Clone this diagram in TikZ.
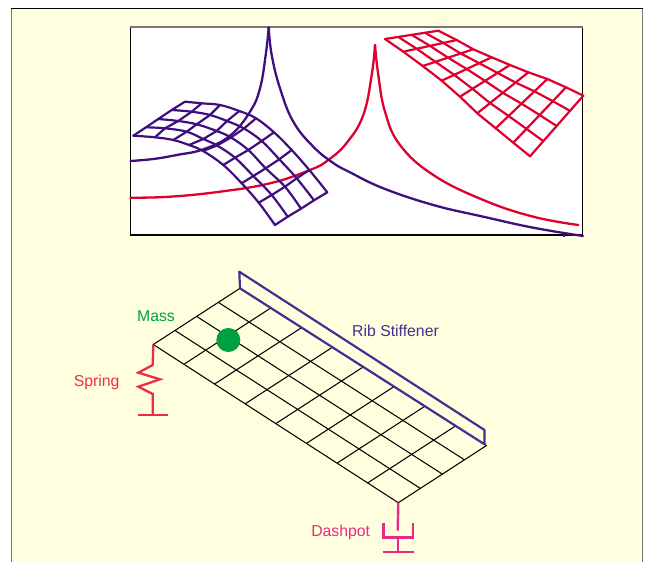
\documentclass[tikz,border=0pt]{standalone}
\usepackage{fontspec}
\setmainfont{Liberation Sans}
\usetikzlibrary{calc}
\definecolor{cream}{HTML}{FFFFE0}
\definecolor{purp}{HTML}{3F0F80}
\definecolor{crim}{HTML}{E0002F}
\definecolor{ribc}{HTML}{453090}
\definecolor{massc}{HTML}{00A040}
\definecolor{sprc}{HTML}{EA3040}
\definecolor{dashc}{HTML}{EA2A88}
\definecolor{edgeg}{HTML}{777770}
\tikzset{
  meshline/.style={line width=2.2pt,line join=round,line cap=round},
  curveline/.style={line width=2.3pt,line join=round,line cap=round},
  platewire/.style={black,line width=1.05pt},
  lbl/.style={font=\fontsize{15.8}{18}\selectfont,inner sep=0pt},
  ribline/.style={ribc,line width=2.2pt,line join=round},
  sprline/.style={sprc,line width=2.3pt,line join=miter},
  dashline/.style={dashc,line width=2.4pt}
}
\newcommand{\meshrow}[6]{%
  \coordinate (#1-0) at (#2);\coordinate (#1-1) at (#3);\coordinate (#1-2) at (#4);%
  \coordinate (#1-3) at (#5);\coordinate (#1-4) at (#6);}
\begin{document}
\begin{tikzpicture}[x=1pt,y=-1pt]
\useasboundingbox (0,0) rectangle (645,562);
\fill[white] (0,0) rectangle (645,562);
\fill[cream] (11.5,8.5) rectangle (642.5,562);
\draw[edgeg,line width=1.8pt] (11.5,562) -- (11.5,8.5);
\draw[edgeg,line width=1.8pt] (642.5,8.5) -- (642.5,562);
\draw[black,line width=1.2pt] (11,8.5) -- (643,8.5);
% plot frame
\fill[white] (130.5,27) rectangle (582.5,235);
\draw[black,line width=1.2pt] (130.5,27) -- (130.5,235) -- (582.5,235) -- (582.5,27);
\draw[edgeg,line width=1.3pt] (130,27) -- (583,27);
% response curves
\draw[crim,curveline] plot[smooth,tension=0.7] coordinates {(130.5,197.7)(170,196.7)(220,191.7)(270,183.3)(310,170)(328.3,160)(347,142.5)(363.3,115)(371.7,75)(375,45)};
\draw[crim,curveline] plot[smooth,tension=0.7] coordinates {(375,45)(378.3,75)(385,111.7)(400,145)(433.3,175)(483.3,200)(533.3,216.7)(578.3,225)};
\draw[purp,curveline] plot[smooth,tension=0.7] coordinates {(130.5,161)(153.3,159)(176.7,155)(203.3,149.3)(230,135.7)(250,111.7)(260,88.3)(265.7,55)(268.7,27.5)};
\draw[purp,curveline] plot[smooth,tension=0.7] coordinates {(268.7,27.5)(271.7,55)(280,88.3)(293.3,121.7)(313.3,146.7)(333.3,163)(350,172.3)(383.3,188.3)(433.3,205)(483.3,216.7)(533.3,227.7)(583,236)};
\draw[purp,line width=1.1pt] (564,233) -- (564,237);
% purple mesh
\meshrow{u0}{133.3,135.7}{146,127.3}{158.3,119}{171.7,110}{185,101.7}
\meshrow{u1}{155,137.3}{165,128.3}{178.3,121}{191.7,111.7}{201.7,103.3}
\meshrow{u2}{173.3,140}{186.7,131.7}{196.7,124.3}{210,115}{220,105}
\meshrow{u3}{189,145}{203.3,139}{216.7,131}{227,121}{239.3,111}
\meshrow{u4}{203,151}{217,145.5}{231,137.5}{244,128.5}{256,118.3}
\meshrow{u5}{223.3,165}{235,157.7}{248.3,150}{261.7,141}{274,132.3}
\meshrow{u6}{241.7,183.3}{253.3,176}{265.7,168.3}{279.3,159.3}{291.7,150}
\meshrow{u7}{258.7,202.7}{271.7,195}{285,186.7}{296.7,178.3}{309.3,170}
\meshrow{u8}{275,225}{287.7,216.7}{301,208.7}{314,200.3}{327.3,192.3}
\foreach \i in {0,...,8}{
  \draw[purp,meshline] (u\i-0) -- (u\i-1) -- (u\i-2) -- (u\i-3) -- (u\i-4);
}
\foreach \j in {0,...,4}{
  \draw[purp,meshline] plot[smooth,tension=0.6] coordinates {(u0-\j)(u1-\j)(u2-\j)(u3-\j)(u4-\j)(u5-\j)(u6-\j)(u7-\j)(u8-\j)};
}
% red mesh
\foreach \i/\bx/\by/\tx/\ty in {0/385/39/438.3/30.7,1/403.3/51.7/456.7/40,2/422.7/66/473.3/49.3,3/441.7/80.7/491.7/57.3,4/460/96.7/510/65,5/477.3/113.3/528.3/72.3,6/495.7/128.3/547.3/79,7/513.3/142.7/566/87.3,8/530/156.3/583.3/95.7}{
  \coordinate (v\i-0) at (\bx,\by);
  \coordinate (v\i-4) at (\tx,\ty);
  \foreach \j in {1,2,3}{
    \coordinate (v\i-\j) at ($(v\i-0)!\j/4!(v\i-4)$);
  }
  \draw[crim,meshline] (v\i-0) -- (v\i-4);
}
\foreach \j in {0,...,4}{
  \draw[crim,meshline] (v0-\j) -- (v1-\j) -- (v2-\j) -- (v3-\j) -- (v4-\j) -- (v5-\j) -- (v6-\j) -- (v7-\j) -- (v8-\j);
}
% plate
\coordinate (T) at (240,288.3);
\coordinate (L) at (153.3,344.5);
\coordinate (B) at (398.3,502.7);
\coordinate (R) at (486.5,445.5);
\foreach \k in {0,...,8}{
  \draw[platewire] ($(L)!\k/8!(B)$) -- ($(T)!\k/8!(R)$);
}
\foreach \k in {0,...,4}{
  \draw[platewire] ($(L)!\k/4!(T)$) -- ($(B)!\k/4!(R)$);
}
% rib
\coordinate (ribA) at (239.3,271.7);
\coordinate (ribB) at (484.5,430);
\coordinate (ribC) at (484.5,444.3);
\draw[ribline] (T) -- (ribA) -- (ribB) -- (ribC) -- (T);
% mass
\fill[massc] (228.3,340) circle (12);
\node[lbl,text=massc] (mass) at (156,315.7) {Mass};
\node[lbl,text=ribc] (rib) at (395.5,330.5) {Rib Stiffener};
\node[lbl,text=sprc] (spring) at (96.7,382.5) {Spring};
\node[lbl,text=dashc] (dash) at (340.7,532) {Dashpot};
% spring
\coordinate (sb) at (152.7,415.3);
\draw[sprline] (L) -- (152.7,365) -- (138.3,372.7) -- (160,379.3) -- (138.3,386.7) -- (152.7,394) -- (sb);
\draw[sprline] (137.7,415.3) -- (167.7,415.3);
% dashpot
\coordinate (dt) at (397.7,530.7);
\coordinate (dm) at (397.7,537.3);
\coordinate (db) at (397.7,552);
\draw[dashline] (B) -- (dt);
\draw[dashline] (383.3,522.7) -- (383.3,537.3) -- (413,537.3) -- (413,522.7);
\draw[dashline] (dm) -- (db);
\draw[dashline] (382.7,552) -- (413.7,552);
\end{tikzpicture}
\end{document}
